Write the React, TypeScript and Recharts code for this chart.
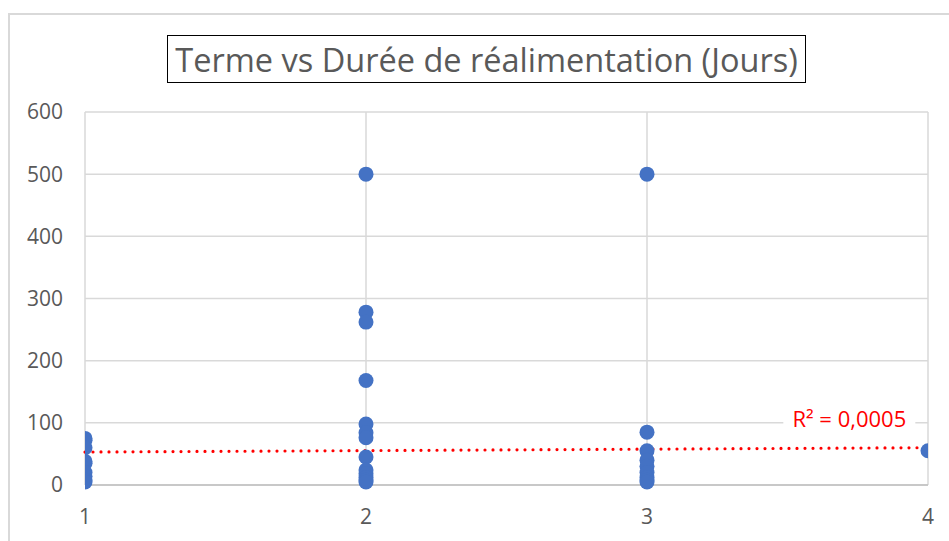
import React from "react";
import {
  CartesianGrid,
  ReferenceDot,
  ReferenceLine,
  Scatter,
  ScatterChart,
  XAxis,
  YAxis
} from "recharts";

// Terme (x) vs Durée de réalimentation en jours (y)
const termeUn = [75, 72, 60, 38, 35, 20, 14, 8, 5];
const termeDeux = [500, 278, 262, 168, 98, 84, 76, 45, 24, 18, 12, 8, 5];
const termeTrois = [500, 85, 55, 40, 30, 20, 12, 8, 5];
const termeQuatre = [55];

const xTicks = [1, 2, 3, 4];
const yTicks = [0, 100, 200, 300, 400, 500, 600];

// courbe de tendance linéaire
const trendStart = { x: 1, y: 53 };
const trendEnd = { x: 4, y: 60 };
const rSquaredLabel = "R² = 0,0005";

const points = [
  ...termeUn.map((y) => ({ x: 1, y })),
  ...termeDeux.map((y) => ({ x: 2, y })),
  ...termeTrois.map((y) => ({ x: 3, y })),
  ...termeQuatre.map((y) => ({ x: 4, y }))
];

const FONT = "'Open Sans', 'Liberation Sans', sans-serif";
const TICK = { fill: "#595959", fontSize: 21, fontFamily: FONT };

function RLabel({ viewBox }: any) {
  if (!viewBox) return null;
  const cx = viewBox.x + (viewBox.width || 0) / 2;
  const cy = viewBox.y + (viewBox.height || 0) / 2;
  return (
    <g>
      <rect x={cx - 66} y={cy - 14} width={132} height={28} fill="#ffffff" />
      <text
        x={cx}
        y={cy}
        textAnchor="middle"
        dominantBaseline="central"
        fill="#FF0000"
        fontSize={22}
        fontFamily={FONT}
      >
        {rSquaredLabel}
      </text>
    </g>
  );
}

export default function App() {
  return (
    <div
      style={{
        position: "absolute",
        left: 0,
        top: 0,
        width: 949,
        height: 541,
        background: "#ffffff",
        overflow: "hidden"
      }}
    >
      <div
        style={{
          position: "absolute",
          left: 8,
          top: 13,
          width: 1000,
          height: 600,
          borderTop: "2px solid #d9d9d9",
          borderLeft: "2px solid #d9d9d9"
        }}
      />
      <div
        style={{
          position: "absolute",
          left: 167,
          top: 35,
          width: 639,
          height: 48,
          boxSizing: "border-box",
          border: "1.5px solid #000000",
          display: "flex",
          alignItems: "center",
          justifyContent: "center",
          fontFamily: FONT,
          fontSize: 32.5,
          color: "#595959",
          whiteSpace: "nowrap"
        }}
      >
        Terme vs Durée de réalimentation (Jours)
      </div>
      <div style={{ position: "absolute", left: 0, top: 0 }}>
        <ScatterChart
          width={949}
          height={541}
          margin={{ top: 112, right: 21, bottom: 0, left: 0 }}
        >
          <CartesianGrid stroke="#d9d9d9" strokeWidth={1.5} />
          <XAxis
            type="number"
            dataKey="x"
            height={56}
            domain={[1, 4]}
            ticks={xTicks}
            tick={TICK}
            tickLine={false}
            tickSize={0}
            tickMargin={24}
            axisLine={{ stroke: "#bfbfbf", strokeWidth: 1.5 }}
            allowDataOverflow
          />
          <YAxis
            type="number"
            dataKey="y"
            width={85}
            domain={[0, 600]}
            ticks={yTicks}
            tick={TICK}
            tickLine={false}
            tickSize={0}
            tickMargin={22}
            axisLine={false}
          />
          <ReferenceLine
            segment={[trendStart, trendEnd]}
            stroke="#FF0000"
            strokeWidth={3.2}
            strokeDasharray="0 8"
            strokeLinecap="round"
            ifOverflow="visible"
          />
          <Scatter
            data={points}
            fill="#4472C4"
            isAnimationActive={false}
            shape={(p: any) => <circle cx={p.cx} cy={p.cy} r={7.5} fill="#4472C4" />}
          />
          <ReferenceDot
            x={3.72}
            y={107}
            r={0}
            fill="none"
            stroke="none"
            ifOverflow="visible"
            label={<RLabel />}
          />
        </ScatterChart>
      </div>
    </div>
  );
}
